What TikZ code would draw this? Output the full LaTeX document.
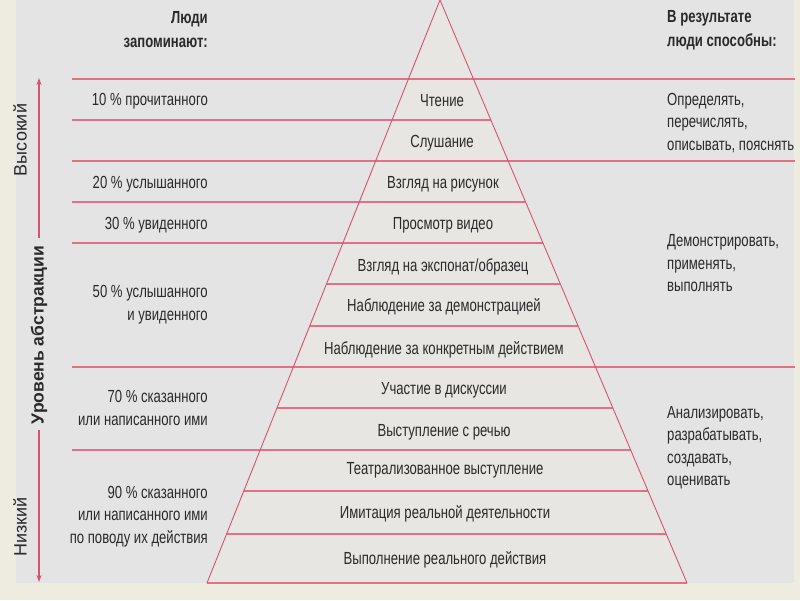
\documentclass[tikz,border=0pt]{standalone}
\usepackage{fontspec}
\setmainfont{Liberation Sans}[FakeStretch=0.75]
\newfontfamily\axfont{Liberation Sans}
\usetikzlibrary{calc,arrows.meta}
\definecolor{bgc}{HTML}{EEEBE1}
\definecolor{panel}{HTML}{E4E4E4}
\definecolor{pyr}{HTML}{E8E6E2}
\definecolor{lin}{HTML}{E27088}
\definecolor{edge}{HTML}{D65470}
\definecolor{txt}{HTML}{2A2A2A}
\begin{document}
\begin{tikzpicture}[x=1pt,y=-1pt,
  hline/.style={lin, line width=1.6pt},
  pedge/.style={edge, line width=0.9pt, line join=miter},
  lbl/.style={font=\fontsize{17.5}{22.5}\selectfont, text=txt, inner sep=0pt},
  lleft/.style={lbl, anchor=east, align=right},
  lright/.style={lbl, anchor=west, align=left},
  head/.style={font=\bfseries\fontsize{17.5}{24}\selectfont, text=txt, inner sep=0pt},
  lvl/.style={lbl, anchor=center},
  axis/.style={edge, line width=1.2pt},
  axtxt/.style={font=\axfont\fontsize{18}{20}\selectfont, text=txt, inner sep=0pt, rotate=90}]
\path[use as bounding box] (0,0) rectangle (800,600);
\fill[bgc] (0,0) rectangle (800,600);
\fill[panel] (16,0) rectangle (794,583);
% pyramid corners
\coordinate (A) at (440,0);
\coordinate (BL) at (207,583);
\coordinate (BR) at (687,583);
\fill[pyr] (A) -- (BL) -- (BR) -- cycle;
% boundary points on the pyramid edges
\foreach \n/\yy in {1/79,2/120,3/161,4/202,5/243,6/284,7/326,8/367,9/408,10/450,11/491,12/534}{
  \coordinate (L\n) at ($(A)!\yy/583!(BL)$);
  \coordinate (R\n) at ($(A)!\yy/583!(BR)$);
}
% left and right ends of the long lines
\coordinate (xl1) at (72,79);   \coordinate (xr1) at (795,79);
\coordinate (xl2) at (72,120);
\coordinate (xl3) at (72,161);  \coordinate (xr3) at (795,161);
\coordinate (xl4) at (72,202);
\coordinate (xl5) at (72,243);
\coordinate (xl8) at (72,367);  \coordinate (xr8) at (795,367);
\coordinate (xl10) at (72,450);
% horizontal lines
\draw[hline] (xl1) -- (xr1);
\draw[hline] (xl2) -- (R2);
\draw[hline] (xl3) -- (xr3);
\draw[hline] (xl4) -- (R4);
\draw[hline] (xl5) -- (R5);
\draw[hline] (L6) -- (R6);
\draw[hline] (L7) -- (R7);
\draw[hline] (xl8) -- (xr8);
\draw[hline] (L9) -- (R9);
\draw[hline] (xl10) -- (R10);
\draw[hline] (L11) -- (R11);
\draw[hline] (L12) -- (R12);
\draw[hline] (BL) -- (BR);
% pyramid outline
\draw[pedge] (BL) -- (A) -- (BR);
% level labels
\node[lvl] (p1) at (442,101) {Чтение};
\node[lvl] (p2) at (442,143) {Слушание};
\node[lvl] (p3) at (443,184) {Взгляд на рисунок};
\node[lvl] (p4) at (443,225) {Просмотр видео};
\node[lvl] (p5) at (443,267) {Взгляд на экспонат/образец};
\node[lvl] (p6) at (444,307) {Наблюдение за демонстрацией};
\node[lvl] (p7) at (444,350) {Наблюдение за конкретным действием};
\node[lvl] (p8) at (444,390) {Участие в дискуссии};
\node[lvl] (p9) at (444,432) {Выступление с речью};
\node[lvl] (p10) at (445,470) {Театрализованное выступление};
\node[lvl] (p11) at (445,514) {Имитация реальной деятельности};
\node[lvl] (p12) at (445,560) {Выполнение реального действия};
% left column
\node[head, anchor=east, align=right] (hl) at (208,30) {Люди\\запоминают:};
\node[lleft] (t1) at (208,101) {10 \% прочитанного};
\node[lleft] (t2) at (208,184) {20 \% услышанного};
\node[lleft] (t3) at (208,225) {30 \% увиденного};
\node[lleft] (t4) at (208,304.5) {50 \% услышанного\\и увиденного};
\node[lleft] (t5) at (208,408) {70 \% сказанного\\или написанного ими};
\node[lleft] (t6) at (208,516.5) {90 \% сказанного\\или написанного ими\\по поводу их действия};
% right column
\node[head, anchor=west, align=left] (hr) at (667,30) {В результате\\люди способны:};
\node[lright] (r1) at (667,123) {Определять,\\перечислять,\\описывать, пояснять};
\node[lright] (r2) at (667,263.5) {Демонстрировать,\\применять,\\выполнять};
\node[lright] (r3) at (667,447.5) {Анализировать,\\разрабатывать,\\создавать,\\оценивать};
% abstraction axis
\node[axtxt] (hi) at (20,140) {Высокий};
\node[axtxt, font=\axfont\bfseries\fontsize{17.5}{20}\selectfont] (mid) at (39,335) {Уровень абстракции};
\node[axtxt] (lo) at (20,527) {Низкий};
\coordinate (top) at (39,78);
\coordinate (bot) at (39,582);
\draw[axis, -{Stealth[length=7pt,width=5pt]}] (mid.east) ++(0,-8) -- (top);
\draw[axis, -{Stealth[length=7pt,width=5pt]}] (mid.west) ++(0,6) -- (bot);
\end{tikzpicture}
\end{document}
